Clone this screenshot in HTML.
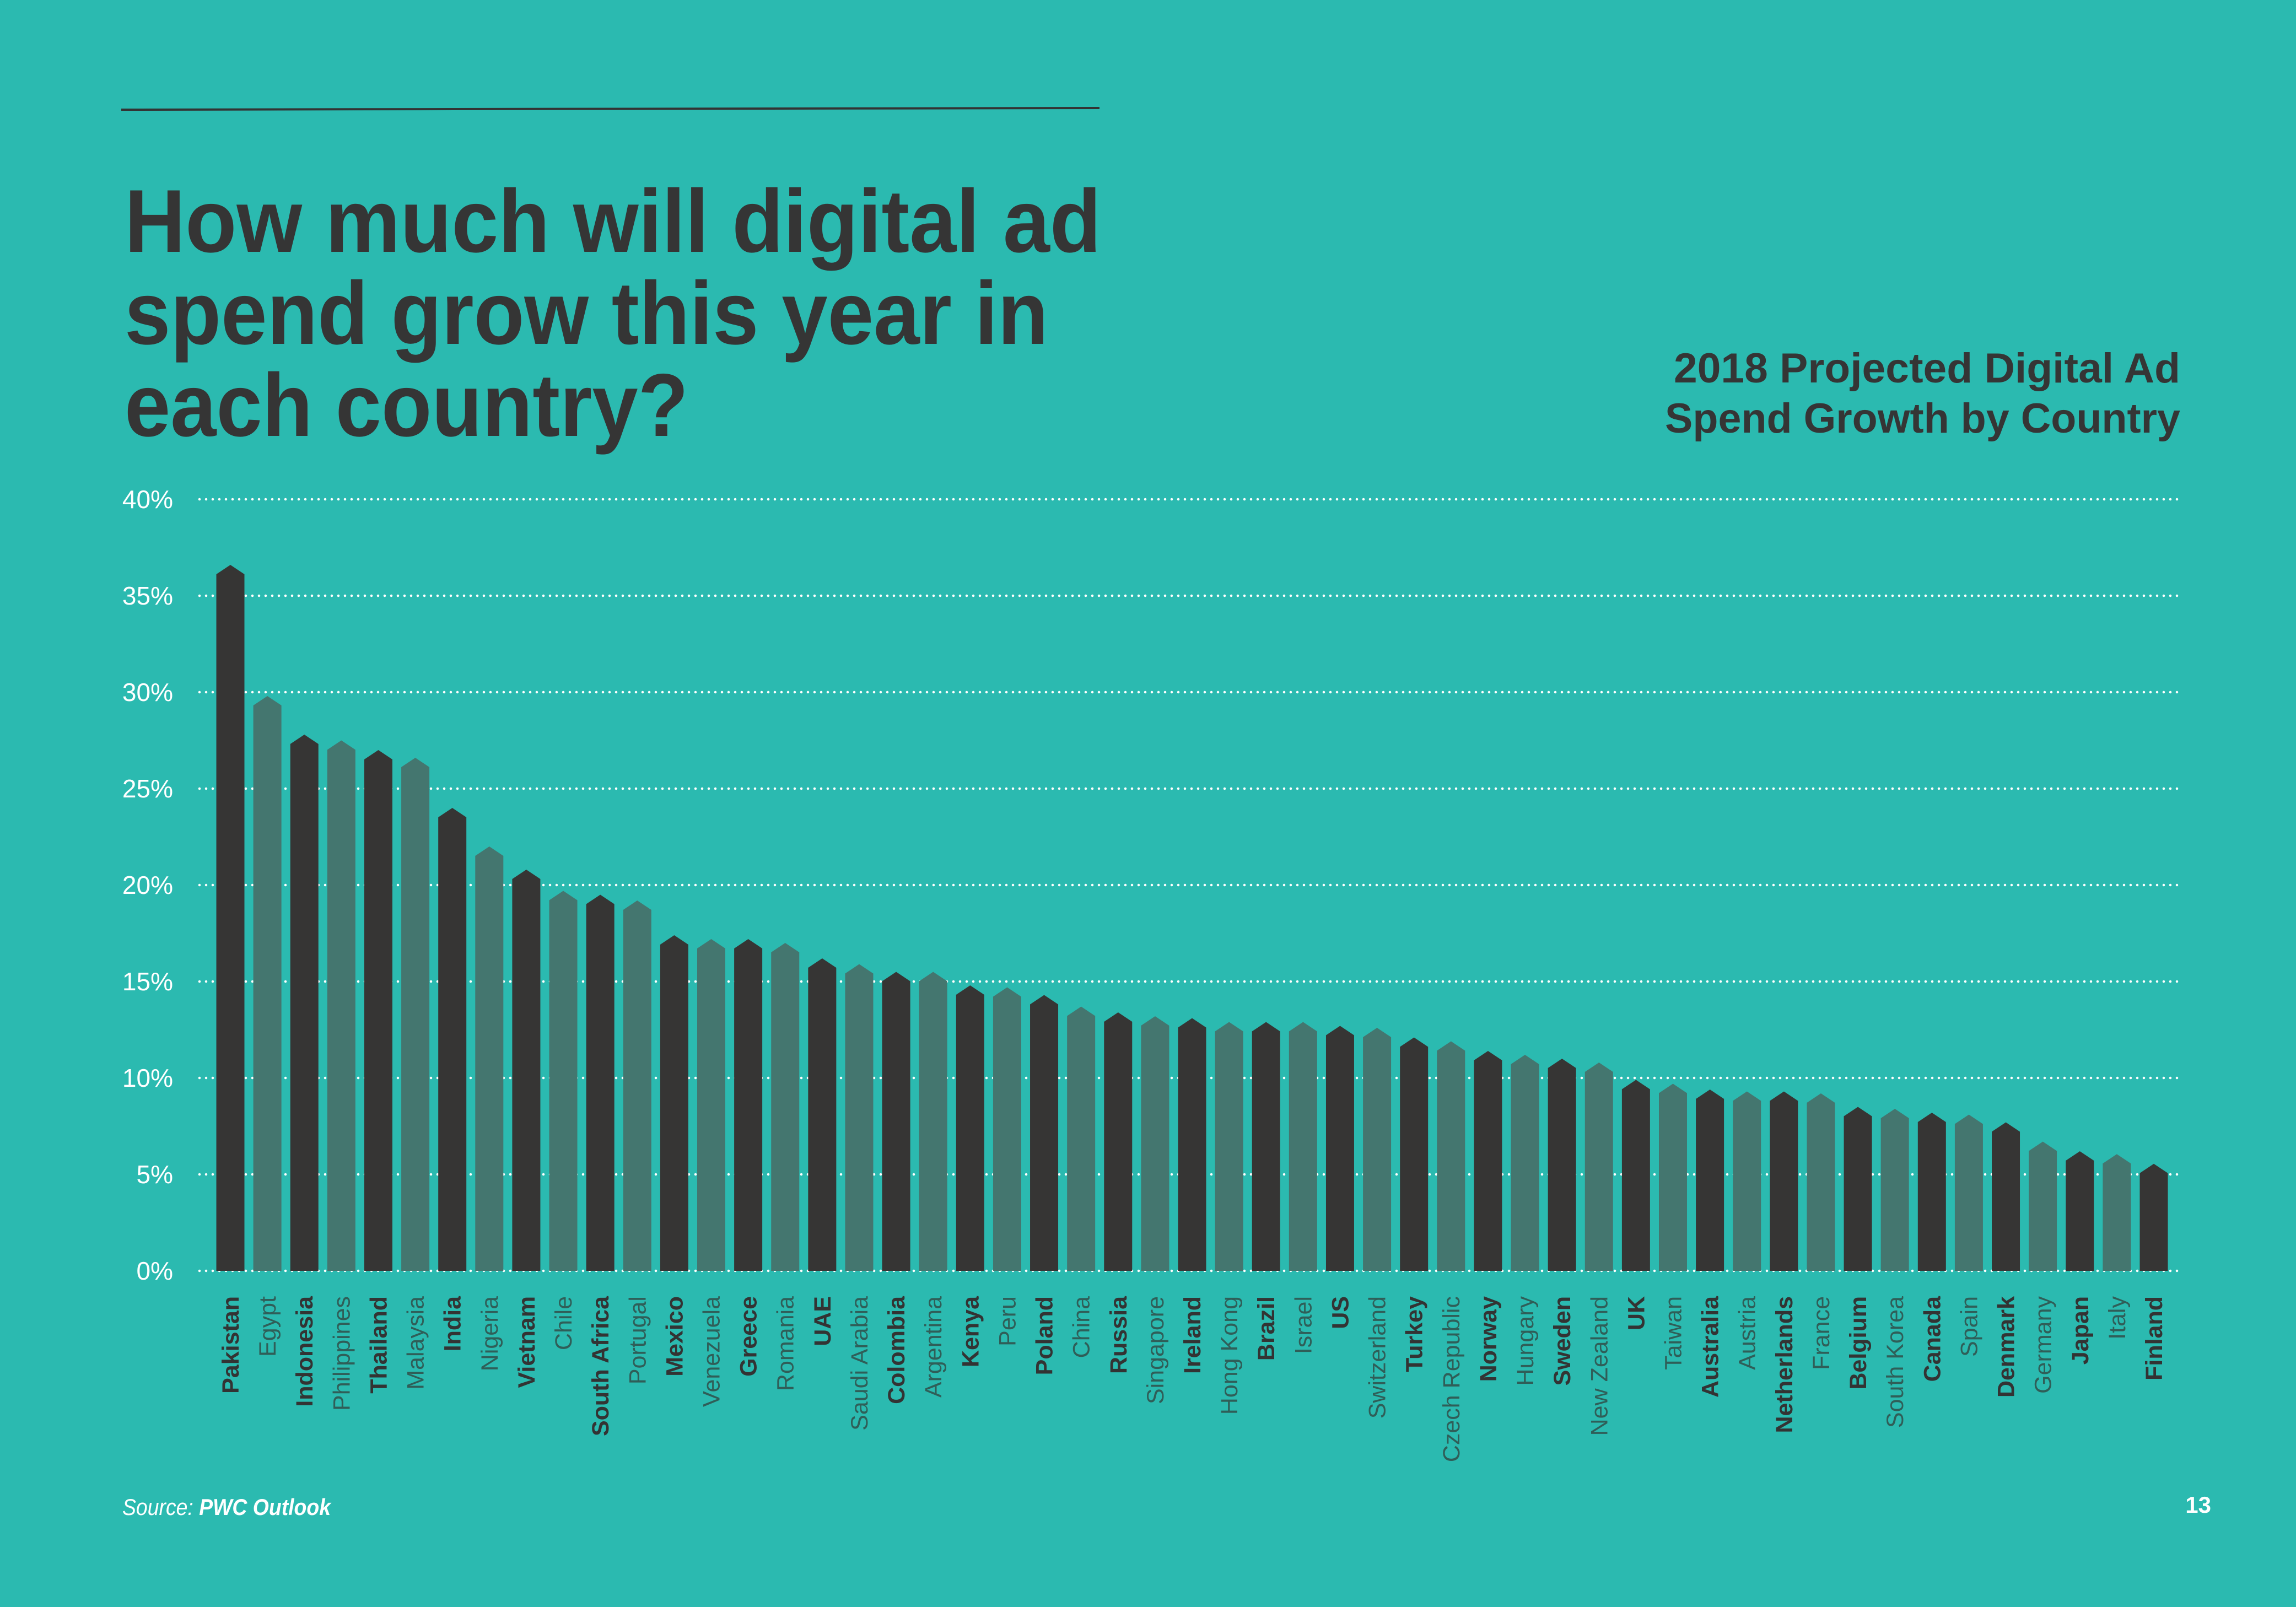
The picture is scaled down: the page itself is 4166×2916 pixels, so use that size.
<!DOCTYPE html>
<html><head><meta charset="utf-8"><style>
html,body{margin:0;padding:0;background:#2BBAB0;}
svg{display:block;}
</style></head><body>
<svg id="chart" width="4166" height="2916" viewBox="0 0 4166 2916" xmlns="http://www.w3.org/2000/svg" font-family="Liberation Sans, sans-serif">
<rect x="0" y="0" width="4166" height="2916" fill="#2BBAB0"/>
<line x1="220" y1="199" x2="1995" y2="196" stroke="#333333" stroke-width="4"/>
<g fill="#353535" font-weight="bold" font-size="162">
<text x="226" y="457" textLength="1772" lengthAdjust="spacingAndGlyphs">How much will digital ad</text>
<text x="226" y="624" textLength="1676" lengthAdjust="spacingAndGlyphs">spend grow this year in</text>
<text x="226" y="791" textLength="1023" lengthAdjust="spacingAndGlyphs">each country?</text>
</g>
<g fill="#353535" font-weight="bold" font-size="76">
<text x="3037" y="694" textLength="919" lengthAdjust="spacingAndGlyphs">2018 Projected Digital Ad</text>
<text x="3021" y="785" textLength="935" lengthAdjust="spacingAndGlyphs">Spend Growth by Country</text>
</g>
<g id="grid"></g>
<g id="yticks"></g>
<g id="bars"></g>
<g id="xlabels"></g>
<text x="222" y="2749" fill="#ffffff" font-size="42" font-style="italic" textLength="378" lengthAdjust="spacingAndGlyphs">Source: <tspan font-weight="bold">PWC Outlook</tspan></text>
<text x="4012" y="2745" fill="#ffffff" font-size="42" font-weight="bold" text-anchor="end">13</text>
</svg>
<script>
const countries = ["Pakistan","Egypt","Indonesia","Philippines","Thailand","Malaysia","India","Nigeria","Vietnam","Chile","South Africa","Portugal","Mexico","Venezuela","Greece","Romania","UAE","Saudi Arabia","Colombia","Argentina","Kenya","Peru","Poland","China","Russia","Singapore","Ireland","Hong Kong","Brazil","Israel","US","Switzerland","Turkey","Czech Republic","Norway","Hungary","Sweden","New Zealand","UK","Taiwan","Australia","Austria","Netherlands","France","Belgium","South Korea","Canada","Spain","Denmark","Germany","Japan","Italy","Finland"];
const growth = [36.6,29.8,27.8,27.5,27.0,26.6,24.0,22.0,20.8,19.7,19.5,19.2,17.4,17.2,17.2,17.0,16.2,15.9,15.5,15.5,14.8,14.7,14.3,13.7,13.4,13.2,13.1,12.9,12.9,12.9,12.7,12.6,12.1,11.9,11.4,11.2,11.0,10.8,9.9,9.7,9.4,9.3,9.3,9.2,8.5,8.4,8.2,8.1,7.7,6.7,6.2,6.05,5.55];
const tickValues = [0,5,10,15,20,25,30,35,40];
const tickLabels = ["0%","5%","10%","15%","20%","25%","30%","35%","40%"];

const NS="http://www.w3.org/2000/svg";
const y0=2306, pxPer=35, x0=418, step=(3908-418)/52, bw=51, cap=17;
function yScale(v){return y0 - v*pxPer;}
function xScale(i){return x0 + i*step;}
function mk(tag,attrs,parent){const e=document.createElementNS(NS,tag);for(const k in attrs)e.setAttribute(k,attrs[k]);parent.appendChild(e);return e;}

const grid=document.getElementById('grid'), yt=document.getElementById('yticks');
tickValues.forEach((t,i)=>{
  const y=yScale(t);
  const l=mk('line',{x1:362,y1:y,x2:3958,y2:y,stroke:'#ffffff','stroke-width':4.5,'stroke-linecap':'round','stroke-dasharray':'0 12'},grid);
  
  
  const tx=mk('text',{x:314,y:y+16,fill:'#ffffff','font-size':46,'text-anchor':'end','font-weight':'300'},yt);
  tx.textContent=tickLabels[i];
  
  
});

const bars=document.getElementById('bars'), xl=document.getElementById('xlabels');
countries.forEach((c,i)=>{
  const cx=xScale(i), top=yScale(growth[i]), l=cx-bw/2, r=cx+bw/2;
  const dark = i%2===0;
  const p=mk('polygon',{points:`${l},${y0} ${l},${top+cap} ${cx},${top} ${r},${top+cap} ${r},${y0}`,fill:dark?'#363534':'#44766F'},bars);
  
  
  const t=mk('text',{transform:`translate(${cx+15},2352) rotate(-90)`,'text-anchor':'end','font-size':43,fill:dark?'#333333':'#2F5E58','font-weight':dark?'bold':'normal'},xl);
  t.textContent=c;
  
  
});
</script>
</body></html>
